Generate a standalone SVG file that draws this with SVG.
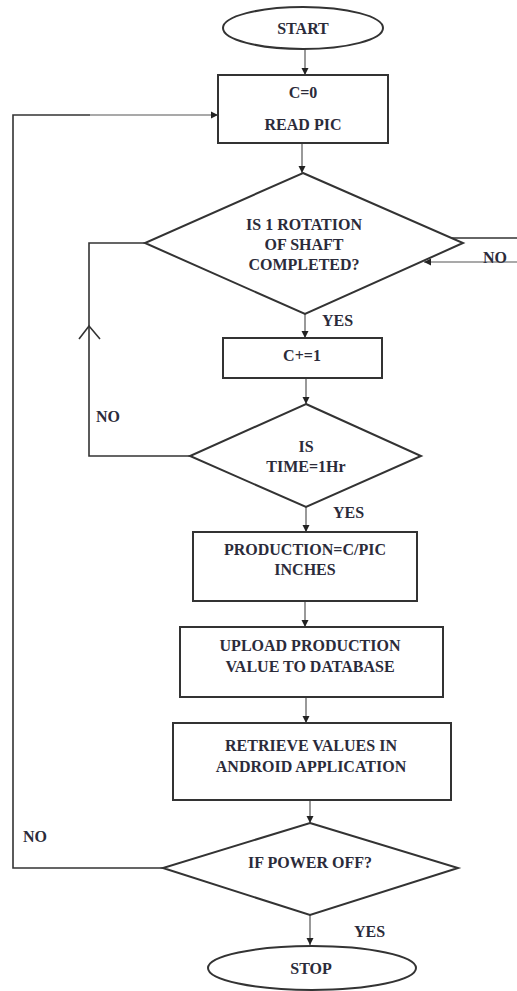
<svg xmlns="http://www.w3.org/2000/svg" width="517" height="991" viewBox="0 0 517 991">
<style>
.shape{fill:#fff;stroke:#333;stroke-width:2}
.conn{fill:none;stroke:#555;stroke-width:1.2}
.loop{fill:none;stroke:#333;stroke-width:1.6}
text{font-family:"Liberation Serif","Times New Roman",serif;font-weight:bold;font-size:16px;fill:#2b2b3a;text-anchor:middle}
.lbl{text-anchor:start}
</style>
<defs>
<marker id="ah" markerWidth="8" markerHeight="8" refX="7" refY="4" orient="auto" markerUnits="userSpaceOnUse">
<path d="M0,0.5 L7,4 L0,7.5 Z" fill="#222"/>
</marker>
</defs>
<rect width="517" height="991" fill="#fff"/>
<g id="connectors">
<line class="conn" x1="305" y1="48" x2="305" y2="75" marker-end="url(#ah)"/>
<line class="conn" x1="302" y1="143" x2="302" y2="173" marker-end="url(#ah)"/>
<line class="conn" x1="305" y1="314" x2="305" y2="338" marker-end="url(#ah)"/>
<line class="conn" x1="306" y1="378" x2="306" y2="404" marker-end="url(#ah)"/>
<line class="conn" x1="306" y1="507" x2="306" y2="532" marker-end="url(#ah)"/>
<line class="conn" x1="305" y1="601" x2="305" y2="627" marker-end="url(#ah)"/>
<line class="conn" x1="306" y1="697" x2="306" y2="723" marker-end="url(#ah)"/>
<line class="conn" x1="310" y1="800" x2="310" y2="823" marker-end="url(#ah)"/>
<line class="conn" x1="310" y1="915" x2="310" y2="945" marker-end="url(#ah)"/>
<polyline class="loop" points="190,456 89,456 89,243 145,243"/>
<polyline class="loop" points="79,339 89,326 100,339"/>
<polyline class="loop" points="163,868 13,868 13,115 90,115"/>
<line class="conn" x1="90" y1="115" x2="218" y2="115" marker-end="url(#ah)"/>
<line class="loop" x1="452" y1="238" x2="517" y2="238"/>
<line class="conn" x1="517" y1="262" x2="424" y2="262" marker-end="url(#ah)"/>
<text class="lbl" x="322" y="326">YES</text>
<text class="lbl" x="483" y="263">NO</text>
<text class="lbl" x="96" y="422">NO</text>
<text class="lbl" x="333" y="518">YES</text>
<text class="lbl" x="23" y="842">NO</text>
<text class="lbl" x="354" y="937">YES</text>
</g>
<g id="start">
<ellipse class="shape" cx="303" cy="28" rx="80" ry="21"/>
<text x="303" y="34">START</text>
</g>
<g id="init">
<rect class="shape" x="218" y="75" width="170" height="68"/>
<text x="303" y="98">C=0</text>
<text x="303" y="130">READ PIC</text>
</g>
<g id="rotation">
<polygon class="shape" points="303,173 463,243 305,314 145,243"/>
<text x="304" y="230">IS 1 ROTATION</text>
<text x="304" y="250">OF SHAFT</text>
<text x="304" y="270">COMPLETED?</text>
</g>
<g id="increment">
<rect class="shape" x="223" y="338" width="159" height="40"/>
<text x="302" y="361">C+=1</text>
</g>
<g id="time">
<polygon class="shape" points="306,404 421,456 306,507 190,456"/>
<text x="306" y="452">IS</text>
<text x="306" y="472">TIME=1Hr</text>
</g>
<g id="production">
<rect class="shape" x="193" y="532" width="224" height="69"/>
<text x="305" y="555">PRODUCTION=C/PIC</text>
<text x="305" y="575">INCHES</text>
</g>
<g id="upload">
<rect class="shape" x="180" y="627" width="263" height="70"/>
<text x="310" y="651">UPLOAD PRODUCTION</text>
<text x="310" y="672">VALUE TO DATABASE</text>
</g>
<g id="retrieve">
<rect class="shape" x="173" y="723" width="278" height="77"/>
<text x="311" y="751">RETRIEVE VALUES IN</text>
<text x="311" y="772">ANDROID APPLICATION</text>
</g>
<g id="power">
<polygon class="shape" points="310,823 458,868 310,915 163,868"/>
<text x="310" y="868">IF POWER OFF?</text>
</g>
<g id="stop">
<ellipse class="shape" cx="312" cy="968" rx="104" ry="22"/>
<text x="311" y="974">STOP</text>
</g>
</svg>
